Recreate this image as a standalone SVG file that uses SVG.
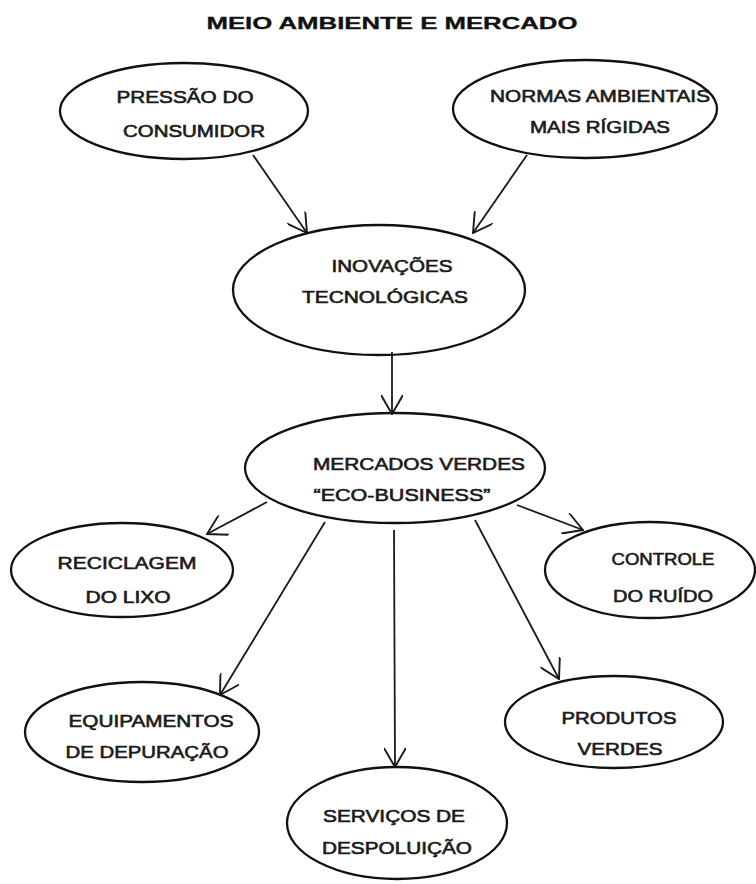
<svg xmlns="http://www.w3.org/2000/svg" width="756" height="884" viewBox="0 0 756 884">
<style>
.bg{fill:#fff}
.node ellipse{fill:none;stroke:#111;stroke-width:2.3}
.lbl{font-family:"Liberation Sans",Arial,sans-serif;font-size:17px;fill:#1a1a1a;stroke:#1a1a1a;stroke-width:0.6;text-anchor:middle}
.title{font-family:"Liberation Sans",Arial,sans-serif;font-size:16.5px;font-weight:bold;fill:#111;stroke:#111;stroke-width:0.3;text-anchor:middle}
.edges line{stroke:#1a1a1a;stroke-width:1.8;fill:none;marker-end:url(#arr)}
</style>
<defs>
<marker id="arr" viewBox="0 0 22 22" refX="21" refY="11" markerWidth="22" markerHeight="22" markerUnits="userSpaceOnUse" orient="auto">
<path d="M2,0 L21,11 L2,22" fill="none" stroke="#1a1a1a" stroke-width="1.9"/>
</marker>
</defs>
<rect class="bg" x="0" y="0" width="756" height="884"/>
<text class="title" x="392" y="29" textLength="371" lengthAdjust="spacingAndGlyphs">MEIO AMBIENTE E MERCADO</text>
<g class="edges">
<line x1="253" y1="155" x2="307" y2="233"/>
<line x1="527" y1="155" x2="473" y2="233"/>
<line x1="392" y1="352" x2="392" y2="414"/>
<line x1="267" y1="502" x2="207" y2="534"/>
<line x1="325" y1="522" x2="220" y2="695"/>
<line x1="394" y1="530" x2="395" y2="767"/>
<line x1="475" y1="520" x2="559" y2="679"/>
<line x1="517" y1="505" x2="583" y2="530"/>
</g>
<g id="pressao" class="node">
<ellipse cx="184" cy="111" rx="124" ry="48"/>
<text class="lbl" x="185" y="103" textLength="137" lengthAdjust="spacingAndGlyphs">PRESSÃO DO</text>
<text class="lbl" x="194" y="137" textLength="142" lengthAdjust="spacingAndGlyphs">CONSUMIDOR</text>
</g>
<g id="normas" class="node">
<ellipse cx="585" cy="109" rx="132" ry="49"/>
<text class="lbl" x="600" y="102" textLength="220" lengthAdjust="spacingAndGlyphs">NORMAS AMBIENTAIS</text>
<text class="lbl" x="600" y="133" textLength="140" lengthAdjust="spacingAndGlyphs">MAIS RÍGIDAS</text>
</g>
<g id="inovacoes" class="node">
<ellipse cx="379" cy="290" rx="146" ry="65"/>
<text class="lbl" x="392" y="272" textLength="121" lengthAdjust="spacingAndGlyphs">INOVAÇÕES</text>
<text class="lbl" x="385" y="303" textLength="166" lengthAdjust="spacingAndGlyphs">TECNOLÓGICAS</text>
</g>
<g id="mercados" class="node">
<ellipse cx="395" cy="468" rx="150" ry="55"/>
<text class="lbl" x="419" y="470" textLength="212" lengthAdjust="spacingAndGlyphs">MERCADOS VERDES</text>
<text class="lbl" x="402" y="501" textLength="177" lengthAdjust="spacingAndGlyphs">“ECO-BUSINESS”</text>
</g>
<g id="reciclagem" class="node">
<ellipse cx="122" cy="570" rx="111" ry="47"/>
<text class="lbl" x="127" y="569" textLength="139" lengthAdjust="spacingAndGlyphs">RECICLAGEM</text>
<text class="lbl" x="128" y="603" textLength="85" lengthAdjust="spacingAndGlyphs">DO LIXO</text>
</g>
<g id="controle" class="node">
<ellipse cx="650" cy="570" rx="105" ry="48"/>
<text class="lbl" x="663" y="565" textLength="103" lengthAdjust="spacingAndGlyphs">CONTROLE</text>
<text class="lbl" x="663" y="602" textLength="100" lengthAdjust="spacingAndGlyphs">DO RUÍDO</text>
</g>
<g id="equipamentos" class="node">
<ellipse cx="142" cy="732" rx="117" ry="50"/>
<text class="lbl" x="151" y="727" textLength="165" lengthAdjust="spacingAndGlyphs">EQUIPAMENTOS</text>
<text class="lbl" x="147" y="758" textLength="163" lengthAdjust="spacingAndGlyphs">DE DEPURAÇÃO</text>
</g>
<g id="produtos" class="node">
<ellipse cx="614" cy="722" rx="109" ry="46"/>
<text class="lbl" x="619" y="724" textLength="115" lengthAdjust="spacingAndGlyphs">PRODUTOS</text>
<text class="lbl" x="620" y="755" textLength="85" lengthAdjust="spacingAndGlyphs">VERDES</text>
</g>
<g id="servicos" class="node">
<ellipse cx="397" cy="823" rx="110" ry="56"/>
<text class="lbl" x="394" y="822" textLength="142" lengthAdjust="spacingAndGlyphs">SERVIÇOS DE</text>
<text class="lbl" x="397" y="854" textLength="150" lengthAdjust="spacingAndGlyphs">DESPOLUIÇÃO</text>
</g>
</svg>
